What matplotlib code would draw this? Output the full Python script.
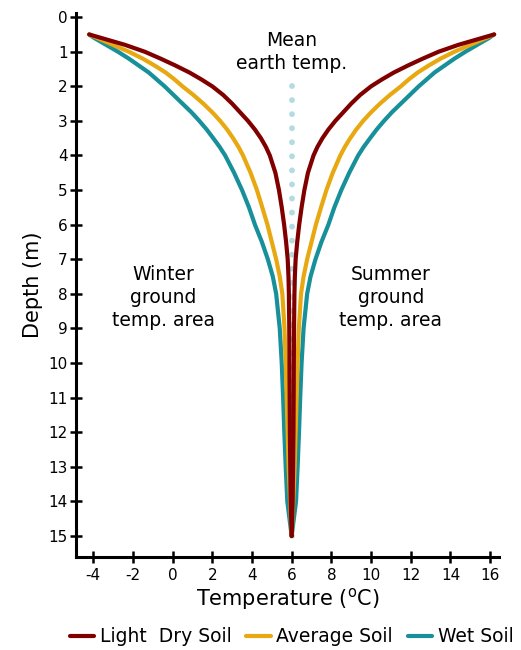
import matplotlib
matplotlib.use("Agg")
import matplotlib.pyplot as plt
import numpy as np

plt.rcParams['font.family'] = ['DejaVu Sans']
plt.rcParams['axes.unicode_minus'] = False

# depth (m) where each reading was taken
depth = [0.5, 0.6, 0.7, 0.8, 0.9, 1.0, 1.2, 1.4, 1.6, 1.8, 2.0, 2.25, 2.5,
         2.75, 3.0, 3.25, 3.5, 3.75, 4.0, 4.5, 5.0, 5.5, 6.0, 6.5, 7.0,
         7.5, 8.0, 9.0, 10.0, 11.0, 12.0, 13.0, 14.0, 15.0]

# mean earth temperature (C)
mean_temp = 6.0

# yearly swing away from the mean temp (C), per soil type
swing_dry = [10.2, 9.6, 9.0, 8.4, 7.9, 7.4, 6.6, 5.85, 5.15, 4.55, 4.0,
             3.45, 3.0, 2.6, 2.2, 1.85, 1.55, 1.3, 1.1, 0.82, 0.64, 0.5,
             0.38, 0.28, 0.2, 0.16, 0.14, 0.12, 0.11, 0.1, 0.09, 0.07,
             0.05, 0.0]
swing_avg = [10.2, 9.8, 9.4, 9.0, 8.6, 8.2, 7.5, 6.9, 6.35, 5.9, 5.5,
             4.95, 4.45, 4.0, 3.6, 3.25, 2.95, 2.68, 2.45, 2.07, 1.75, 1.48,
             1.22, 1.0, 0.78, 0.6, 0.47, 0.36, 0.3, 0.25, 0.2, 0.15,
             0.08, 0.0]
swing_wet = [10.2, 9.95, 9.65, 9.35, 9.05, 8.75, 8.2, 7.7, 7.2, 6.8, 6.4,
             5.95, 5.5, 5.05, 4.65, 4.28, 3.95, 3.63, 3.35, 2.9, 2.5, 2.15,
             1.85, 1.5, 1.2, 0.95, 0.78, 0.6, 0.5, 0.43, 0.37, 0.3,
             0.22, 0.0]

soil_labels = ["Light  Dry Soil", "Average Soil", "Wet Soil"]
soil_colors = ["#800000", "#e8a812", "#17909a"]

# mean temp dotted line range
mean_depth = [2.0, 15.0]

x_ticks = [-4, -2, 0, 2, 4, 6, 8, 10, 12, 14, 16]
y_ticks = list(range(0, 16))

fig = plt.figure(figsize=(5.21, 6.5), dpi=100)
ax = fig.add_axes([0.146, 0.143, 0.812, 0.837])

ax.plot([mean_temp, mean_temp], mean_depth, color="#b3dbe2", lw=4.2,
        linestyle=(0, (0.01, 2.4)), dash_capstyle="round", zorder=1)

handles = []
swings = [swing_dry, swing_avg, swing_wet]
for i in [2, 1, 0]:
    s = np.array(swings[i])
    h, = ax.plot(mean_temp - s, depth, color=soil_colors[i], lw=3.0,
                 solid_capstyle="round", solid_joinstyle="round",
                 zorder=2 + (2 - i))
    ax.plot(mean_temp + s, depth, color=soil_colors[i], lw=3.0,
            solid_capstyle="round", solid_joinstyle="round",
            zorder=2 + (2 - i))
    handles.insert(0, h)

ax.set_xlim(-4.86, 16.45)
ax.set_ylim(15.61, -0.12)
ax.set_xticks(x_ticks)
ax.set_yticks(y_ticks)

for side in ["top", "right"]:
    ax.spines[side].set_visible(False)
for side in ["left", "bottom"]:
    ax.spines[side].set_linewidth(2.2)
ax.tick_params(direction="inout", length=8, width=1.8, labelsize=11)
ax.tick_params(axis="x", pad=4)
ax.tick_params(axis="y", pad=2)

ax.set_xlabel(r"Temperature ($^{\rm o}$C)", fontsize=15, labelpad=2)
ax.set_ylabel("Depth (m)", fontsize=15, labelpad=4)

ax.text(6.0, 1.0, "Mean\nearth temp.", ha="center", va="center",
        fontsize=13.5, linespacing=1.25)
ax.text(-0.45, 8.1, "Winter\nground\ntemp. area", ha="center", va="center",
        fontsize=13.5, linespacing=1.25)
ax.text(11.0, 8.1, "Summer\nground\ntemp. area", ha="center", va="center",
        fontsize=13.5, linespacing=1.25)

fig.legend(handles, soil_labels, loc="center", bbox_to_anchor=(0.56, 0.02),
           ncol=3, frameon=False, fontsize=13.5, handlelength=1.3,
           handletextpad=0.3, columnspacing=0.8, borderpad=0)

fig.savefig("out.png", dpi=100)
